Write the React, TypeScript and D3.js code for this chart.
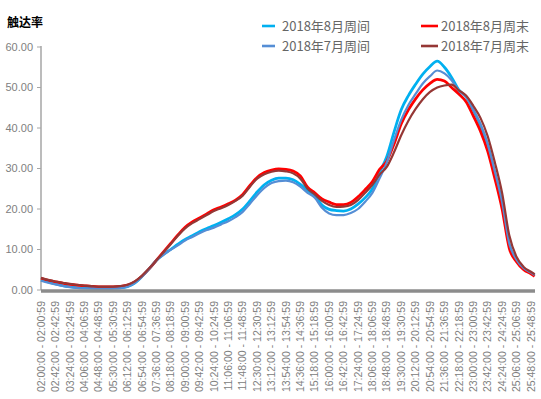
import React from "react";
import * as d3 from "d3";

// x labels, one every 42 minutes
const tickLabels = [
  "02:00:00 - 02:00:59", "02:42:00 - 02:42:59", "03:24:00 - 03:24:59", "04:06:00 - 04:06:59",
  "04:48:00 - 04:48:59", "05:30:00 - 05:30:59", "06:12:00 - 06:12:59", "06:54:00 - 06:54:59",
  "07:36:00 - 07:36:59", "08:18:00 - 08:18:59", "09:00:00 - 09:00:59", "09:42:00 - 09:42:59",
  "10:24:00 - 10:24:59", "11:06:00 - 11:06:59", "11:48:00 - 11:48:59", "12:30:00 - 12:30:59",
  "13:12:00 - 13:12:59", "13:54:00 - 13:54:59", "14:36:00 - 14:36:59", "15:18:00 - 15:18:59",
  "16:00:00 - 16:00:59", "16:42:00 - 16:42:59", "17:24:00 - 17:24:59", "18:06:00 - 18:06:59",
  "18:48:00 - 18:48:59", "19:30:00 - 19:30:59", "20:12:00 - 20:12:59", "20:54:00 - 20:54:59",
  "21:36:00 - 21:36:59", "22:18:00 - 22:18:59", "23:00:00 - 23:00:59", "23:42:00 - 23:42:59",
  "24:24:00 - 24:24:59", "25:06:00 - 25:06:59", "25:48:00 - 25:48:59",
];
const labelStep = 42;
const totalMinutes = 1440;

const yTicks = [0, 10, 20, 30, 40, 50, 60];

// sampled every 21 minutes from 02:00, last one at 25:59
const sampleMinutes = d3.range(0, 1429, 21).concat([1439]);

const aug_weekday = [
  2.5, 2.0, 1.5, 1.1, 0.8, 0.6, 0.5, 0.45, 0.4, 0.4,
  0.45, 0.5, 0.8, 1.7, 3.3, 5.2, 7.3, 8.8, 10.0, 11.3,
  12.5, 13.4, 14.4, 15.2, 15.9, 16.7, 17.6, 18.6, 20.0, 22.0,
  24.2, 26.0, 27.1, 27.6, 27.6, 27.2, 26.1, 24.6, 23.3, 21.0,
  19.9, 19.6, 19.5, 20.0, 21.2, 22.8, 25.0, 29.0, 33.0, 39.0,
  44.5, 48.0, 50.8, 53.3, 55.2, 56.5, 55.0, 52.5, 49.4, 47.7,
  44.4, 40.7, 35.8, 28.8, 21.4, 11.1, 7.4, 5.3, 4.3, 3.7,
];
const aug_weekend = [
  2.9, 2.4, 2.0, 1.7, 1.4, 1.2, 1.05, 0.9, 0.8, 0.8,
  0.8, 0.9, 1.2, 2.0, 3.4, 5.2, 7.3, 9.4, 11.5, 13.6,
  15.5, 16.8, 17.8, 18.8, 19.8, 20.5, 21.3, 22.2, 23.6, 25.8,
  27.8, 29.0, 29.6, 29.9, 29.8, 29.4, 28.2, 25.4, 24.0, 22.5,
  21.7, 21.1, 21.1, 21.6, 23.0, 24.8, 26.8, 29.8, 31.8, 36.0,
  41.0, 44.5, 47.2, 49.4, 51.0, 52.0, 51.6, 50.0, 48.4, 46.5,
  43.0, 39.2, 34.3, 27.5, 20.0, 10.3, 7.0, 5.0, 4.0, 3.4,
];
const jul_weekday = [
  2.3, 1.8, 1.4, 1.0, 0.7, 0.5, 0.4, 0.35, 0.3, 0.3,
  0.35, 0.45, 0.8, 1.7, 3.3, 5.2, 7.3, 8.7, 9.9, 11.0,
  12.2, 13.1, 14.0, 14.8, 15.4, 16.2, 17.0, 18.0, 19.3, 21.3,
  23.4, 25.2, 26.4, 26.9, 27.0, 26.6, 25.5, 24.0, 22.8, 20.3,
  18.9, 18.5, 18.5, 19.0, 20.0, 21.8, 24.0, 27.6, 31.5, 37.0,
  42.0, 45.7, 48.4, 51.0, 52.8, 54.2, 53.5, 51.8, 49.2, 47.7,
  44.5, 41.0, 36.0, 29.2, 21.8, 11.5, 7.5, 5.4, 4.3, 3.7,
];
const jul_weekend = [
  3.0, 2.5, 2.1, 1.8, 1.5, 1.3, 1.1, 0.95, 0.85, 0.85,
  0.85, 0.95, 1.3, 2.1, 3.5, 5.3, 7.3, 9.3, 11.3, 13.4,
  15.2, 16.5, 17.5, 18.5, 19.5, 20.2, 21.0, 22.0, 23.3, 25.5,
  27.5, 28.6, 29.2, 29.5, 29.3, 28.8, 27.5, 25.0, 23.6, 22.0,
  21.0, 20.5, 20.6, 21.0, 22.2, 24.0, 26.0, 28.5, 30.4, 34.0,
  38.2, 41.8, 44.7, 47.1, 48.9, 50.0, 50.5, 50.7, 49.3, 48.0,
  45.5, 42.5, 38.0, 31.5, 24.0, 13.5, 8.2, 5.7, 4.5, 3.9,
];

const seriesNames = ["2018年8月周间", "2018年8月周末", "2018年7月周间", "2018年7月周末"];
const seriesValues = [aug_weekday, aug_weekend, jul_weekday, jul_weekend];
const seriesColors = ["#00B0F0", "#FF0000", "#558ED5", "#953735"];
const seriesWidths = [2.75, 2.75, 2.2, 2.2];

const W = 541;
const H = 399;
const left = 41;
const right = 535;
const top = 47;
const bottom = 290;

export default function App() {
  const x = d3.scaleLinear().domain([0, totalMinutes]).range([left, right]);
  const y = d3.scaleLinear().domain([0, 60]).range([bottom, top]);

  const line = d3
    .line<number>()
    .x((_, i) => x(sampleMinutes[i]))
    .y((d) => y(d))
    .curve(d3.curveMonotoneX);

  const numFont = "'Liberation Sans', Arial, sans-serif";
  const cjkFont = "'Noto Sans CJK SC', 'Liberation Sans', sans-serif";

  const legendPos = [
    [262, 26],
    [421, 26],
    [262, 46],
    [421, 46],
  ];

  return (
    <svg
      width={W}
      height={H}
      style={{ position: "absolute", left: 0, top: 0, background: "#fff" }}
    >
      <text x={7} y={27} fontFamily={cjkFont} fontSize={12} fontWeight="bold" fill="#000">
        触达率
      </text>

      {/* legend */}
      {seriesNames.map((name, i) => (
        <g key={name} transform={`translate(${legendPos[i][0]},${legendPos[i][1]})`}>
          <line x1={0} x2={i % 2 === 0 ? 13 : 17} y1={0} y2={0} stroke={seriesColors[i]} strokeWidth={2.6} />
          <text x={20} y={0} dy="0.36em" fontFamily={cjkFont} fontSize={13} fill="#666">
            {name}
          </text>
        </g>
      ))}

      {/* y axis */}
      <line x1={left} x2={left} y1={top - 1} y2={bottom} stroke="#a6a6a6" strokeWidth={1.5} />
      {yTicks.map((t) => (
        <g key={t}>
          <line x1={left - 4} x2={left} y1={y(t)} y2={y(t)} stroke="#a6a6a6" strokeWidth={1} />
          <text
            x={33}
            y={y(t)}
            dy="0.35em"
            textAnchor="end"
            fontFamily={numFont}
            fontSize={11}
            fill="#808080"
          >
            {t.toFixed(2)}
          </text>
        </g>
      ))}

      {/* series */}
      {seriesValues.map((vals, i) => (
        <path
          key={seriesNames[i]}
          d={line(vals) || ""}
          fill="none"
          stroke={seriesColors[i]}
          strokeWidth={seriesWidths[i]}
          strokeLinejoin="round"
        />
      ))}

      {/* x axis */}
      <line x1={left} x2={right} y1={291} y2={291} stroke="#8c8c8c" strokeWidth={3.5} />
      {tickLabels.map((lab, i) => (
        <text
          key={lab}
          transform={`translate(${x(i * labelStep)},${301}) rotate(-90)`}
          dy="0.35em"
          textAnchor="end"
          fontFamily={numFont}
          fontSize={10.5}
          fill="#808080"
        >
          {lab}
        </text>
      ))}
    </svg>
  );
}
